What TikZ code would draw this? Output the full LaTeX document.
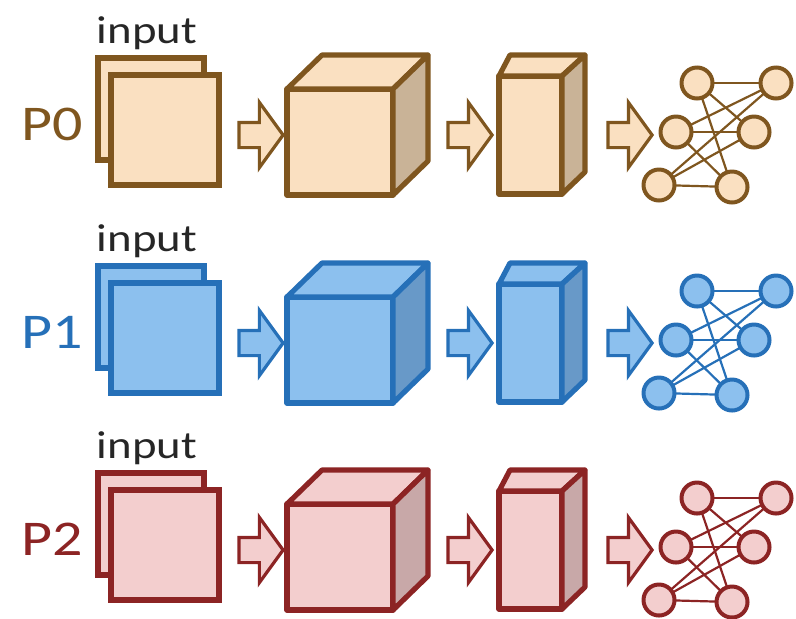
\documentclass[tikz,border=0pt]{standalone}
\usepackage{fontspec}
\setmainfont{Carlito}[FakeStretch=1.2]
\usetikzlibrary{shapes.arrows}

\definecolor{line0}{RGB}{127,86,31}
\definecolor{fill0}{RGB}{250,224,193}
\definecolor{side0}{RGB}{201,179,151}
\definecolor{line1}{RGB}{38,112,184}
\definecolor{fill1}{RGB}{140,192,238}
\definecolor{side1}{RGB}{104,153,200}
\definecolor{line2}{RGB}{140,36,36}
\definecolor{fill2}{RGB}{243,206,206}
\definecolor{side2}{RGB}{200,168,168}

\tikzset{
  face/.style={draw=ink, fill=paper, inner sep=0pt, outer sep=0pt, line width=2.6pt, line join=round},
  sheet/.style={draw=ink, fill=paper, inner sep=0pt, outer sep=0pt, line width=3.2pt},
  flow/.style={single arrow, draw=ink, fill=paper, line width=1.6pt, inner sep=5.5pt, outer sep=0pt,
    minimum height=22pt, single arrow head extend=10pt, single arrow tip angle=108},
  neuron/.style={circle, draw=ink, fill=paper, line width=2pt, inner sep=0pt, outer sep=0pt, minimum size=15.5pt},
  wire/.style={draw=ink, line width=1.1pt},
}

\begin{document}
\begin{tikzpicture}[x=0.5pt, y=-0.5pt]
    \useasboundingbox (0,0) rectangle (796,618);
    \foreach \r/\dy in {0/0, 1/208, 2/415} {
    \colorlet{ink}{line\r}
    \colorlet{paper}{fill\r}
    \colorlet{shade}{side\r}
    \begin{scope}[shift={(0,\dy)}]
        % label and input sheets
        \node[anchor=base, text=ink, font=\fontsize{25}{30}\selectfont] (name\r) at (52,140) {P\r};
        \node[anchor=base, text=black!85, font=\fontsize{19.5}{23}\selectfont] (input\r) at (147,43) {input};
        \node[sheet, minimum width=53pt, minimum height=51pt] (back\r) at (151,109) {};
        \node[sheet, minimum width=54pt, minimum height=55pt] (front\r) at (165,130) {};
        \node[flow] (go1-\r) at (256.5,135) {};
        % cube
        \node[face, minimum width=53pt, minimum height=53pt] (cube\r) at (340,142) {};
        \draw[face] (cube\r.north west) -- ++(35,-34) -- ++(106,0) -- (cube\r.north east) -- cycle;
        \draw[face, fill=shade] (cube\r.north east) -- ++(35,-34) -- ++(0,106) -- (cube\r.south east) -- cycle;
        \node[flow] (go2-\r) at (465.5,135) {};
        % tall box
        \node[face, minimum width=31.5pt, minimum height=59pt] (tall\r) at (530.5,135) {};
        \draw[face] (tall\r.north west) -- ++(11,-21) -- ++(75,0) -- (tall\r.north east) -- cycle;
        \draw[face, fill=shade] (tall\r.north east) -- ++(23,-21) -- ++(0,117) -- (tall\r.south east) -- cycle;
        \node[flow] (go3-\r) at (625.5,135) {};
        % network
        \node[neuron] (n1-\r) at (697,83) {};
        \node[neuron] (n2-\r) at (676,132) {};
        \node[neuron] (n3-\r) at (659,185) {};
        \node[neuron] (m1-\r) at (776,83) {};
        \node[neuron] (m2-\r) at (754,132) {};
        \node[neuron] (m3-\r) at (732,187) {};
        \foreach \i in {1,2,3}
            \foreach \j in {1,2,3}
                \draw[wire] (n\i-\r) -- (m\j-\r);
    \end{scope}
    }
\end{tikzpicture}
\end{document}
